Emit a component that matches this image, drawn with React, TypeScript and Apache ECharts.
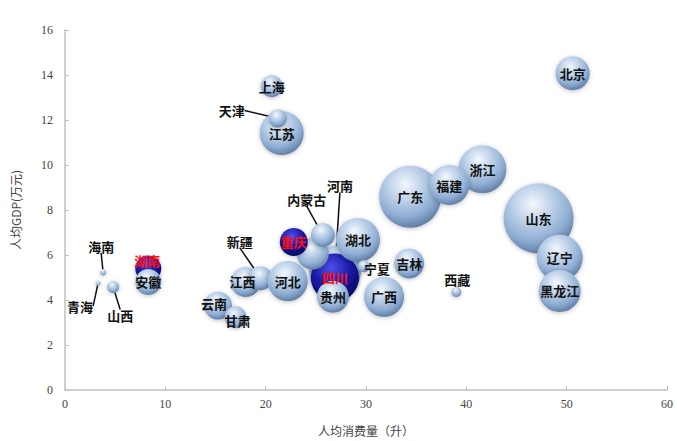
import React, { useEffect, useRef } from "react";
import * as echarts from "echarts";

// province names (drawing order: back to front)
const provinces = [
  "河南", "四川", "贵州", "陕西", "重庆", "内蒙古", "湖北", "宁夏", "吉林", "广西",
  "江西", "新疆", "河北", "云南", "甘肃", "湖南", "安徽", "海南", "青海", "山西",
  "上海", "江苏", "天津", "广东", "浙江", "福建", "山东", "辽宁", "黑龙江", "西藏", "北京",
];
// 人均消费量（升）
const consumption = [
  26.9, 26.9, 26.7, 24.7, 22.8, 25.7, 29.2, 29.8, 34.3, 31.8,
  18.0, 19.5, 22.2, 15.25, 17.0, 8.3, 8.3, 3.8, 3.3, 4.8,
  20.6, 21.6, 21.2, 34.4, 41.6, 38.3, 47.2, 49.3, 49.3, 39.0, 50.6,
];
// 人均GDP(万元)
const gdp = [
  5.25, 5.0, 4.14, 6.06, 6.58, 6.89, 6.67, 5.5, 5.62, 4.14,
  4.8, 4.97, 4.84, 3.75, 3.23, 5.4, 4.8, 5.23, 4.75, 4.58,
  13.5, 11.42, 12.07, 8.59, 9.81, 9.11, 7.63, 5.88, 4.4, 4.36, 14.08,
];
// bubble magnitude (area-like)
const bubble = [
  676, 576, 256, 256, 196, 144, 484, 36, 225, 400,
  225, 144, 400, 196, 121, 169, 169, 9, 6, 36,
  121, 484, 81, 961, 576, 400, 1225, 529, 441, 25, 289,
];
const highlighted = ["四川", "重庆", "湖南"];
const hiddenLabels = ["陕西"];

// label displacement (style only): [dx, dy, withLeaderLine]
const labelMoves: Record<string, [number, number, boolean]> = {
  天津: [-46, -8, true],
  海南: [-2, -26, true],
  青海: [-18, 23, true],
  山西: [7, 29, true],
  新疆: [-21, -37, true],
  内蒙古: [-16, -35, true],
  河南: [5, -86, true],
  湖南: [-1, -8, false],
  西藏: [1, -12, false],
  宁夏: [13, 2, false],
  江西: [-3, 0, false],
  云南: [-4, -2, false],
  甘肃: [2, 3, false],
};

const lightSphere = new echarts.graphic.RadialGradient(0.42, 0.3, 0.75, [
  { offset: 0, color: "#f4f8fd" },
  { offset: 0.3, color: "#c6d8ed" },
  { offset: 0.7, color: "#8eadd2" },
  { offset: 1, color: "#56739c" },
]);
const darkSphere = new echarts.graphic.RadialGradient(0.42, 0.3, 0.75, [
  { offset: 0, color: "#5050ee" },
  { offset: 0.45, color: "#2020b0" },
  { offset: 1, color: "#000058" },
]);

export default function App() {
  const ref = useRef<HTMLDivElement>(null);
  useEffect(() => {
    if (!ref.current) return;
    const chart = echarts.init(ref.current, undefined, { renderer: "svg" });
    const data = provinces.map((name, i) => {
      const hl = highlighted.includes(name);
      const mv = labelMoves[name];
      const item: any = {
        name,
        value: [consumption[i], gdp[i], bubble[i]],
        itemStyle: { color: hl ? darkSphere : lightSphere },
        label: {
          show: !hiddenLabels.includes(name),
          color: hl ? "#ff1010" : "#111",
        },
      };
      if (mv && mv[2]) {
        item.labelLine = { show: true, lineStyle: { color: "#111", width: 1.5 } };
      }
      return item;
    });
    chart.setOption({
      animation: false,
      backgroundColor: "#ffffff",
      grid: { left: 65, right: 10, top: 30, bottom: 44 },
      xAxis: {
        type: "value",
        min: 0,
        max: 60,
        interval: 10,
        name: "人均消费量（升）",
        nameLocation: "middle",
        nameGap: 34,
        nameTextStyle: { fontFamily: "Noto Sans CJK SC", fontSize: 12, color: "#444" },
        axisLine: { show: true, lineStyle: { color: "#c0c0c0", width: 1.5 } },
        axisTick: { show: true, inside: true, length: 4, lineStyle: { color: "#c0c0c0" } },
        axisLabel: { fontFamily: "Liberation Serif", fontSize: 12, color: "#444", margin: 8 },
        splitLine: { show: false },
      },
      yAxis: {
        type: "value",
        min: 0,
        max: 16,
        interval: 2,
        name: "人均GDP(万元)",
        nameLocation: "middle",
        nameGap: 44,
        nameRotate: 90,
        nameTextStyle: { fontFamily: "Noto Sans CJK SC", fontSize: 12, color: "#444" },
        axisLine: { show: true, lineStyle: { color: "#c0c0c0", width: 1.5 } },
        axisTick: { show: true, inside: true, length: 4, lineStyle: { color: "#c0c0c0" } },
        axisLabel: { fontFamily: "Liberation Serif", fontSize: 12, color: "#444", margin: 12 },
        splitLine: { show: false },
      },
      series: [
        {
          type: "scatter",
          data,
          symbolSize: (v: number[]) => 2 * Math.sqrt(v[2]),
          itemStyle: {
            opacity: 1,
            shadowBlur: 4,
            shadowColor: "rgba(0,0,0,0.25)",
            shadowOffsetY: 1,
          },
          label: {
            show: true,
            position: "inside",
            formatter: "{b}",
            fontFamily: "Noto Sans CJK SC",
            fontWeight: "bold",
            fontSize: 13,
          },
          labelLayout: (p: any) => {
            const name = provinces[p.dataIndex];
            const mv = labelMoves[name];
            if (!mv) return {};
            return { dx: mv[0], dy: mv[1] };
          },
          emphasis: { disabled: true },
        },
      ],
    });
    return () => chart.dispose();
  }, []);
  return (
    <div
      ref={ref}
      style={{ position: "fixed", left: 0, top: 0, width: 677, height: 441 }}
    />
  );
}
